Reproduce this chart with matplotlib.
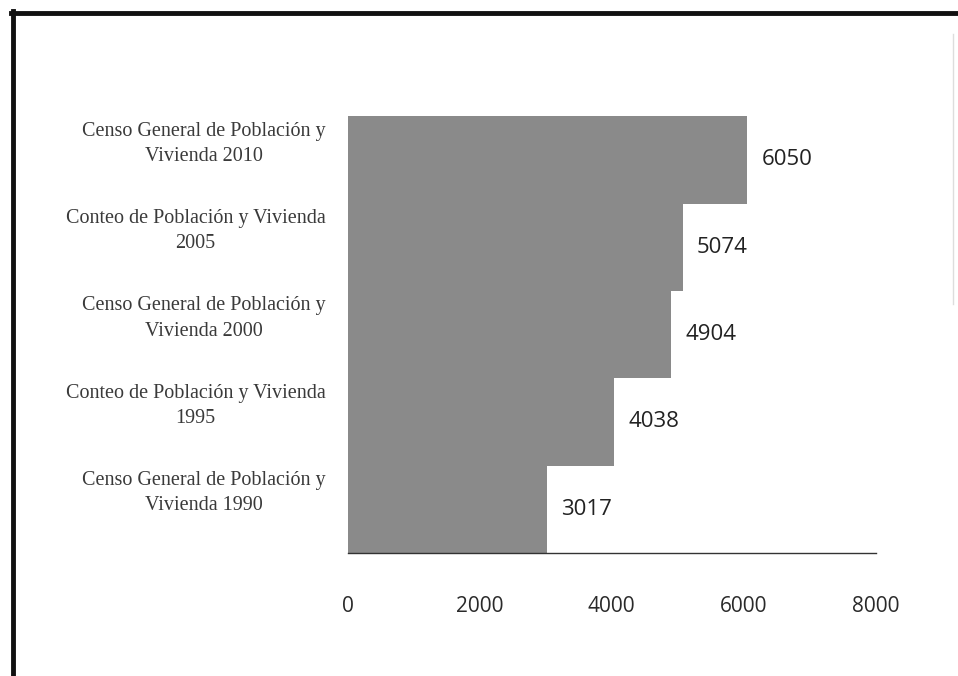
import matplotlib.pyplot as plt
from matplotlib.lines import Line2D
from matplotlib.transforms import ScaledTranslation

categories = [
    'Censo General de Población y\nVivienda 1990',
    'Conteo de Población y Vivienda\n1995',
    'Censo General de Población y\nVivienda 2000',
    'Conteo de Población y Vivienda\n2005',
    'Censo General de Población y\nVivienda 2010',
]
values = [3017, 4038, 4904, 5074, 6050]
xticks = [0, 2000, 4000, 6000, 8000]


def main():
    fig = plt.figure(figsize=(9.58, 6.76), dpi=100)
    ax = fig.add_axes([0.363, 0.182, 0.551, 0.646])

    pos = list(range(len(values)))
    ax.barh(pos, values, height=1.0, color='#8a8a8a', edgecolor='none')

    for y, v in zip(pos, values):
        ax.text(v + 220, y, str(v), va='center', ha='left', fontsize=16,
                family='Open Sans', color='#222222')

    ax.set_xlim(0, 8000)
    ax.set_ylim(-0.5, 4.5)
    ax.set_xticks(xticks)
    ax.set_xticklabels([str(t) for t in xticks], family='Open Sans', fontsize=15, color='#2a2a2a')
    ax.tick_params(axis='x', length=0, pad=31)
    ax.set_yticks(pos)
    ax.set_yticklabels(categories, family='Liberation Serif', fontsize=14.5,
                       multialignment='center', color='#3a3a3a', linespacing=1.45)
    ax.tick_params(axis='y', length=0, pad=16)
    shift = ScaledTranslation(0, 0.16, fig.dpi_scale_trans)
    for lbl in ax.get_yticklabels():
        lbl.set_va('center')
        lbl.set_transform(lbl.get_transform() + shift)

    for side in ('top', 'right', 'left'):
        ax.spines[side].set_visible(False)
    ax.spines['bottom'].set_color('#333333')
    ax.spines['bottom'].set_linewidth(1.0)

    # frame around the picture
    fig.add_artist(Line2D([0.0135, 0.0135], [0.0, 0.983], color='#111111', lw=3.5,
                          transform=fig.transFigure))
    fig.add_artist(Line2D([0.0115, 1.0], [0.981, 0.981], color='#111111', lw=3.5,
                          transform=fig.transFigure))
    fig.add_artist(Line2D([0.995, 0.995], [0.55, 0.95], color='#dddddd', lw=1.0,
                          transform=fig.transFigure))

    fig.savefig('out.png', dpi=100)
    plt.close(fig)


if __name__ == '__main__':
    main()
